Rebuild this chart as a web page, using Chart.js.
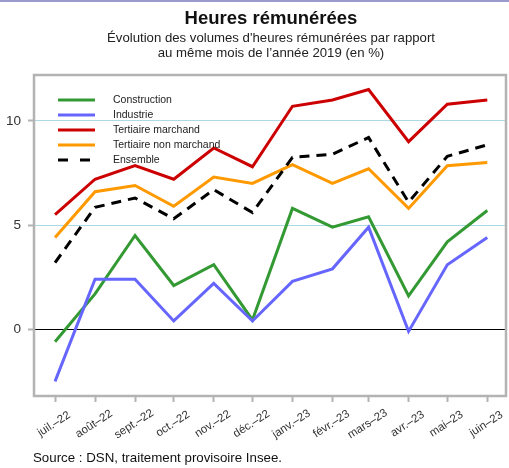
<!DOCTYPE html>
<html><head><meta charset="utf-8">
<script src="https://cdn.jsdelivr.net/npm/chart.js@4/dist/chart.umd.min.js"></script>
<style>
html,body{margin:0;padding:0;background:#fff;}
body{width:509px;height:468px;position:relative;overflow:hidden;font-family:"Liberation Sans",Arial,sans-serif;color:#111;}
#topbar{position:absolute;left:0;top:0;width:509px;height:2px;background:#9a9acc;}
#title{position:absolute;left:0;width:542px;top:7px;text-align:center;font-weight:bold;font-size:18.5px;line-height:21px;}
#subtitle{position:absolute;left:0;width:542px;top:30px;text-align:center;font-size:13.2px;line-height:15px;color:#222;}
#source{position:absolute;left:33px;top:450px;font-size:13.3px;line-height:16px;color:#111;}
#c{position:absolute;left:0;top:0;}
</style></head>
<body>
<div id="topbar"></div>
<canvas id="c" width="509" height="468"></canvas>
<div id="title">Heures rémunérées</div>
<div id="subtitle">Évolution des volumes d'heures rémunérées par rapport<br>au même mois de l’année 2019 (en %)</div>
<div id="source">Source : DSN, traitement provisoire Insee.</div>
<script>
const categories = ["juil.–22","août–22","sept.–22","oct.–22","nov.–22","déc.–22","janv.–23","févr.–23","mars–23","avr.–23","mai–23","juin–23"];
const construction = [-0.6, 1.7, 4.5, 2.1, 3.1, 0.45, 5.8, 4.9, 5.4, 1.6, 4.2, 5.7];
const industrie = [-2.5, 2.4, 2.4, 0.4, 2.2, 0.4, 2.3, 2.9, 4.9, -0.1, 3.1, 4.4];
const tertiaireMarchand = [5.5, 7.2, 7.85, 7.2, 8.7, 7.8, 10.7, 11.0, 11.5, 9.0, 10.8, 11.0];
const tertiaireNonMarchand = [4.4, 6.6, 6.9, 5.9, 7.3, 7.0, 7.9, 7.0, 7.7, 5.8, 7.85, 8.0];
const ensemble = [3.2, 5.85, 6.3, 5.3, 6.7, 5.6, 8.25, 8.4, 9.2, 6.1, 8.3, 8.85];
const seriesNames = ["Construction","Industrie","Tertiaire marchand","Tertiaire non marchand","Ensemble"];
const yTicks = [0, 5, 10];

// x positions: days since the first month (time-proportional axis)
const monthDays = categories.map((c, i) => (Date.UTC(2022, 6 + i, 1) - Date.UTC(2022, 6, 1)) / 86400000);
const pts = arr => arr.map((v, i) => ({x: monthDays[i], y: v}));

const FONT = '"Liberation Sans", Arial, sans-serif';
const colors = ['#339933', '#6666ff', '#cc0000', '#ff9900', '#000000'];
const allSeries = [construction, industrie, tertiaireMarchand, tertiaireNonMarchand, ensemble];

const datasets = allSeries.map((s, i) => ({
  label: seriesNames[i],
  data: pts(s),
  borderColor: colors[i],
  backgroundColor: colors[i],
  borderWidth: 3,
  borderDash: i === 4 ? [10, 7] : [],
  pointRadius: 0,
  tension: 0,
  fill: false,
  order: 5 - i
}));

const framePlugin = {
  id: 'frame',
  afterDatasetsDraw(chart) {
    const {ctx, chartArea: a} = chart;
    ctx.save();
    ctx.strokeStyle = '#b3b3b3';
    ctx.lineWidth = 2.5;
    ctx.strokeRect(a.left, a.top, a.right - a.left, a.bottom - a.top);
    ctx.restore();
  }
};

const legendPlugin = {
  id: 'customLegend',
  afterDatasetsDraw(chart) {
    const {ctx} = chart;
    ctx.save();
    ctx.font = '10.5px ' + FONT;
    ctx.textBaseline = 'middle';
    ctx.textAlign = 'left';
    chart.data.datasets.forEach((ds, i) => {
      const y = 100 + i * 15;
      ctx.strokeStyle = ds.borderColor;
      ctx.lineWidth = 3;
      ctx.setLineDash(i === 4 ? [10, 12] : []);
      ctx.beginPath();
      ctx.moveTo(58, y);
      ctx.lineTo(i === 4 ? 92 : 95, y);
      ctx.stroke();
      ctx.setLineDash([]);
      ctx.fillStyle = '#222';
      ctx.fillText(ds.label, 113, y);
    });
    ctx.restore();
  }
};

const xLabelPlugin = {
  id: 'xLabels',
  afterDraw(chart) {
    const {ctx} = chart;
    const xs = chart.scales.x;
    ctx.save();
    ctx.font = '11.5px ' + FONT;
    ctx.fillStyle = '#333';
    ctx.textAlign = 'center';
    ctx.textBaseline = 'middle';
    categories.forEach((c, i) => {
      const x = xs.getPixelForValue(monthDays[i]);
      ctx.save();
      ctx.translate(x - 1, 424);
      ctx.rotate(-33 * Math.PI / 180);
      ctx.fillText(c, 0, 0);
      ctx.restore();
    });
    ctx.restore();
  }
};

new Chart(document.getElementById('c'), {
  type: 'line',
  data: {datasets},
  options: {
    responsive: false,
    animation: false,
    events: [],
    layout: {padding: {top: 75, right: 3, left: 0, bottom: 0}},
    plugins: {legend: {display: false}, tooltip: {enabled: false}, title: {display: false}},
    scales: {
      x: {
        type: 'linear',
        min: -16.3,
        max: 349.5,
        afterBuildTicks: s => { s.ticks = monthDays.map(v => ({value: v})); },
        afterFit: s => { s.height = 72; },
        ticks: {display: false},
        grid: {drawOnChartArea: false, drawTicks: true, tickLength: 6, tickColor: '#b3b3b3', tickWidth: 2},
        border: {display: false}
      },
      y: {
        type: 'linear',
        min: -3.2,
        max: 12.2,
        afterBuildTicks: s => { s.ticks = yTicks.map(v => ({value: v})); },
        afterFit: s => { s.width = 34; },
        ticks: {color: '#333', font: {size: 13.5, family: FONT}, padding: 7},
        grid: {
          color: c => (c.tick && c.tick.value === 0) ? '#000000' : '#add8e6',
          lineWidth: 1,
          drawTicks: true, tickLength: 6, tickColor: '#b3b3b3', tickWidth: 2
        },
        border: {display: false}
      }
    }
  },
  plugins: [framePlugin, legendPlugin, xLabelPlugin]
});
</script>
</body></html>
